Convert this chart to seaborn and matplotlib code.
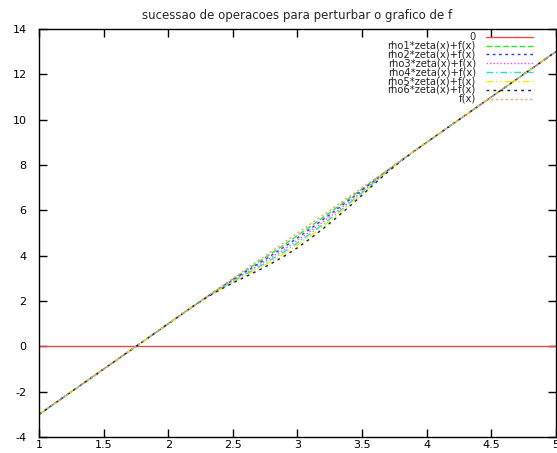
import numpy as np
import pandas as pd
import matplotlib
matplotlib.use("Agg")
import matplotlib.pyplot as plt
import seaborn as sns

# sample points
x_pts = [1.0, 2.2, 2.3, 2.4, 2.5, 2.6, 2.7, 2.8, 2.9, 3.0, 3.1, 3.2, 3.3,
         3.4, 3.5, 3.6, 3.7, 3.8, 3.9, 5.0]
f_pts = [-3.0, 1.8, 2.2, 2.6, 3.0, 3.4, 3.8, 4.2, 4.6, 5.0, 5.4, 5.8, 6.2,
         6.6, 7.0, 7.4, 7.8, 8.2, 8.6, 13.0]
# downward bump (size of the lowest curve)
zeta_pts = [0.0, 0.0, 0.03, 0.1, 0.2, 0.32, 0.44, 0.54, 0.61, 0.65, 0.64,
            0.6, 0.53, 0.44, 0.33, 0.21, 0.1, 0.03, 0.0, 0.0]
rho = [0.17, 0.33, 0.5, 0.67, 0.83, 1.0]

labels = ["0", "rho1*zeta(x)+f(x)", "rho2*zeta(x)+f(x)", "rho3*zeta(x)+f(x)",
          "rho4*zeta(x)+f(x)", "rho5*zeta(x)+f(x)", "rho6*zeta(x)+f(x)", "f(x)"]
colors = ["#f04848", "#22ee22", "#3333ff", "#ff44ff", "#22dddd", "#eeee00",
          "#222222", "#ff9966"]
dashes = [None, (4, 2), (2, 2.5), (1, 1.5), (5, 2, 1, 2), (5, 2, 1, 2, 1, 2),
          (2, 3), (1.5, 2)]

sns.set_style("ticks")
plt.rcParams["font.family"] = ["DejaVu Sans"]
plt.rcParams["axes.unicode_minus"] = False

fig = plt.figure(figsize=(5.57, 4.53), dpi=100)
ax = fig.add_axes([0.070, 0.035, 0.928, 0.901])

x = np.array(x_pts)
f = np.array(f_pts)
z = np.array(zeta_pts)

series = [np.zeros_like(x)] + [f - r * z for r in rho] + [f]
for i, y in enumerate(series):
    xs = [1.0, 5.0] if i == 0 else x
    ys = [0.0, 0.0] if i == 0 else y
    sns.lineplot(x=xs, y=ys, color=colors[i], lw=1, ax=ax)
    ln = ax.get_lines()[-1]
    if dashes[i] is not None:
        ln.set_dashes(dashes[i])

# gnuplot-style key: labels right-aligned, sample to the right
for i, lab in enumerate(labels):
    yk = 0.981 - i * 0.0217
    ax.plot([0.865, 0.955], [yk, yk], color=colors[i], lw=1,
            transform=ax.transAxes,
            **({} if dashes[i] is None else {"dashes": dashes[i]}))
    ax.text(0.845, yk, lab, ha="right", va="center", fontsize=7.2,
            transform=ax.transAxes)

ax.set_xlim(1, 5)
ax.set_ylim(-4, 14)
ax.set_xticks(np.arange(1, 5.01, 0.5))
ax.set_xticklabels(["1", "1.5", "2", "2.5", "3", "3.5", "4", "4.5", "5"])
ax.set_yticks(np.arange(-4, 14.01, 2))
ax.tick_params(direction="in", length=6, width=1, top=True, right=True,
               labelsize=8, colors="black")
ax.tick_params(axis="x", pad=2)
ax.tick_params(axis="y", pad=9)
for s in ax.spines.values():
    s.set_visible(True)
    s.set_color("black")
    s.set_linewidth(1)
ax.set_title("sucessao de operacoes para perturbar o grafico de f",
             fontsize=8.5, pad=7)

fig.savefig("out.png", dpi=100)
